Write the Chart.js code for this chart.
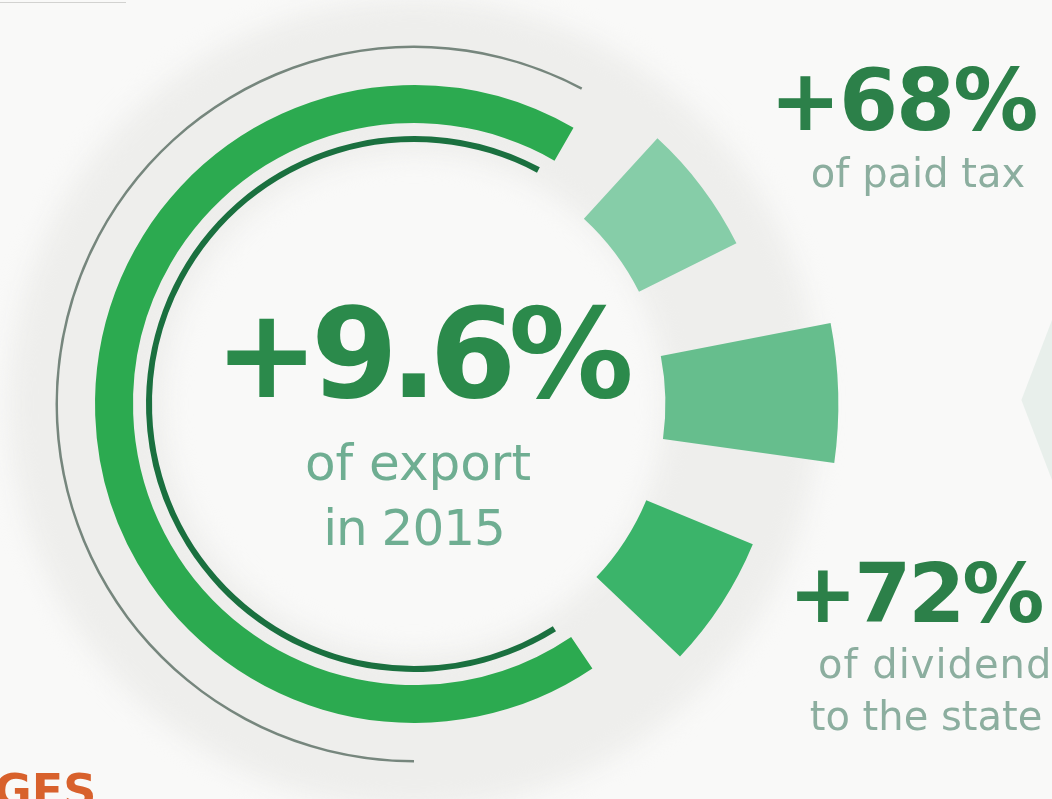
<!DOCTYPE html>
<html lang="en">
<head>
  <meta charset="UTF-8">
  <title>+9.6% of export in 2015</title>
  <script src="https://cdn.jsdelivr.net/npm/chart.js"></script>
  <style>
    html, body { margin: 0; padding: 0; width: 1052px; height: 799px; overflow: hidden; background: #f9f9f8; font-family: "DejaVu Sans", sans-serif; }
    .layer { position: absolute; left: -36px; top: -46px; width: 900px; height: 900px; }
    #halo { filter: blur(12px); }
    .txt { position: absolute; white-space: nowrap; line-height: 1; }
    .big { font-weight: bold; color: #2c8049; }
    .sub { color: #8cae9f; font-size: 40px; }
    .edge { position: absolute; left: 1018px; top: 320px; width: 34px; height: 160px; background: #e8efeb; clip-path: polygon(100% 0, 10% 50%, 100% 100%); }
    .topline { position: absolute; left: 0; top: 2px; width: 126px; height: 1px; background: #d2d2d0; }
  </style>
</head>
<body>
<div class="topline"></div>
<div class="edge"></div>

<canvas id="halo" class="layer" width="900" height="900"></canvas>
<canvas id="rings" class="layer" width="900" height="900"></canvas>
<canvas id="wedges" class="layer" width="900" height="900"></canvas>

<!-- centre -->
<div class="txt big" style="left:0; width:840px; text-align:center; top:291px; font-size:125px; letter-spacing:-8px; color:#2b8a4b;">+9.6%</div>
<div class="txt" style="left:0; width:836px; text-align:center; top:438px; font-size:50px; color:#6fae92;">of export</div>
<div class="txt" style="left:0; width:828px; text-align:center; top:503px; font-size:50px; letter-spacing:-1px; color:#6fae92;">in 2015</div>

<!-- right labels -->
<div class="txt big" style="left:603px; width:600px; text-align:center; top:58px; font-size:85px; letter-spacing:-2px;">+68%</div>
<div class="txt sub" style="left:618px; width:600px; text-align:center; top:153px;">of paid tax</div>
<div class="txt big" style="left:615px; width:600px; text-align:center; top:553px; font-size:82px; letter-spacing:-3px;">+72%</div>
<div class="txt sub" style="left:818px; top:644px; letter-spacing:1px;">of dividend</div>
<div class="txt sub" style="left:626px; width:600px; text-align:center; top:696px;">to the state</div>

<div class="txt" style="left:-6px; top:768px; font-size:46px; font-weight:bold; color:#d8612c;">GES</div>

<script>
  // values (growth in %)
  const categories = ["paid tax", "other", "dividend to the state"];
  const growth = [68, 108, 72];
  const wedgeColors = ["#86cda8", "#66be8d", "#3bb46a"];

  // layout of the radial bars (degrees, clockwise from 12 o'clock)
  const startAngle = 42.5;
  const wedgeSpans = [21, 19, 21];
  const gapSpans = [15.5, 14.5];

  Chart.defaults.animation = false;
  Chart.defaults.plugins.legend.display = false;
  Chart.defaults.plugins.tooltip.enabled = false;

  // soft grey ring behind everything
  new Chart(document.getElementById("halo"), {
    type: "doughnut",
    data: { labels: ["halo"], datasets: [{ data: [1], backgroundColor: "#eeeeec", borderWidth: 0 }] },
    options: { responsive: false, radius: 405, cutout: (250 / 405 * 100) + "%" }
  });

  // decorative arcs: thin grey, thick green, thin dark green (outer -> inner)
  const clear = "rgba(0,0,0,0)";
  const ringOuter = 358.5, ringInner = 262;
  new Chart(document.getElementById("rings"), {
    type: "doughnut",
    data: {
      labels: ["arc"],
      datasets: [
        { data: [1], weight: 2.5, rotation: 180, circumference: 208, backgroundColor: "#76867d", borderWidth: 0 },
        { data: [1], weight: 37, backgroundColor: clear, borderWidth: 0 },
        { data: [1], weight: 38, rotation: 146, circumference: 244, backgroundColor: "#2caa50", borderWidth: 0 },
        { data: [1], weight: 13, backgroundColor: clear, borderWidth: 0 },
        { data: [1], weight: 6, rotation: 148, circumference: 240, backgroundColor: "#1a703f", borderWidth: 0 }
      ]
    },
    options: { responsive: false, radius: ringOuter, cutout: (ringInner / ringOuter * 100) + "%" }
  });

  // radial bars: polar area with gaps, arcs start at value 0 of the r scale
  const labels = [], values = [], colors = [], spans = [];
  categories.forEach((c, i) => {
    labels.push(c); values.push(growth[i]); colors.push(wedgeColors[i]); spans.push(wedgeSpans[i]);
    labels.push(""); values.push(0); colors.push(clear);
    spans.push(i < gapSpans.length ? gapSpans[i] : 360 - wedgeSpans.reduce((a, b) => a + b, 0) - gapSpans.reduce((a, b) => a + b, 0));
  });

  const innerBase = {
    id: "innerBase",
    afterDatasetsUpdate(chart) {
      const r0 = chart.scales.r.getDistanceFromCenterForValue(0);
      chart.getDatasetMeta(0).data.forEach(a => { a.innerRadius = r0; });
    }
  };

  new Chart(document.getElementById("wedges"), {
    type: "polarArea",
    data: {
      labels: labels,
      datasets: [{
        data: values,
        backgroundColor: colors,
        borderWidth: 0,
        angle: ctx => spans[ctx.dataIndex]
      }]
    },
    options: {
      responsive: false,
      scales: { r: { display: false, min: -157, max: 124, startAngle: startAngle } }
    },
    plugins: [innerBase]
  });
</script>
</body>
</html>
